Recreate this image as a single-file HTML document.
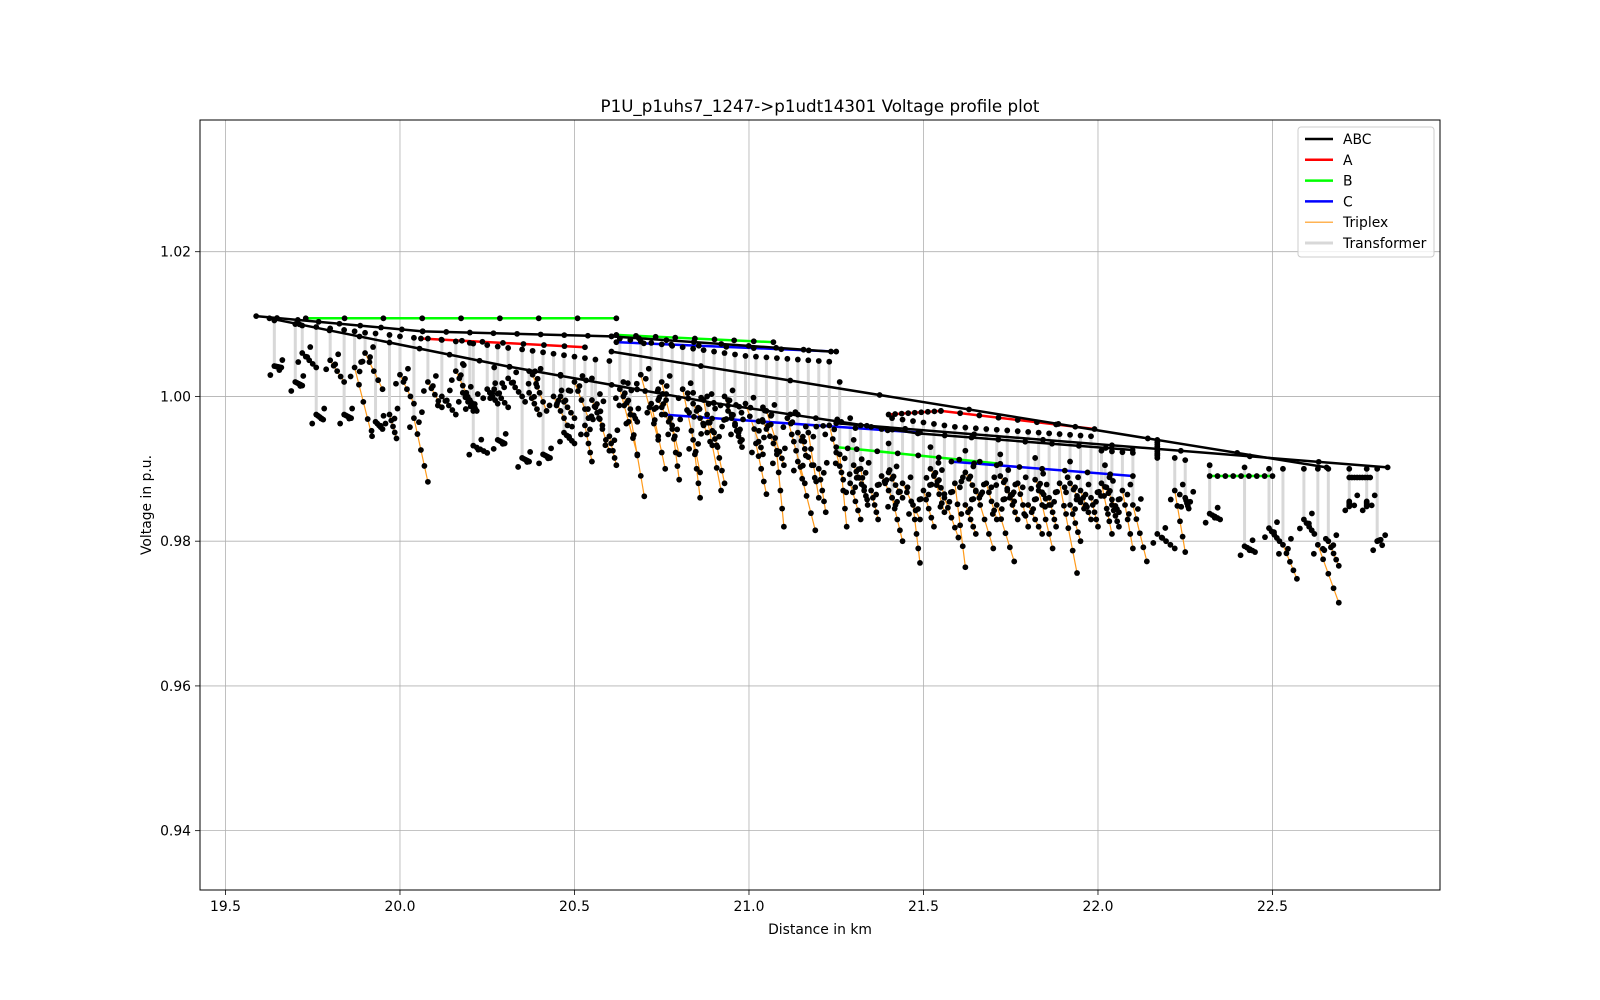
<!DOCTYPE html>
<html><head><meta charset="utf-8">
<style>
html,body{margin:0;padding:0;background:#fff;}
svg{display:block;font-family:"DejaVu Sans","Liberation Sans",sans-serif;}
</style></head>
<body>
<svg id="chart" width="1600" height="1000" xmlns="http://www.w3.org/2000/svg">
<rect x="0" y="0" width="1600" height="1000" fill="#fff"/>
<text x="820" y="112" font-size="16.7" text-anchor="middle">P1U_p1uhs7_1247-&gt;p1udt14301 Voltage profile plot</text>
<text x="820" y="934" font-size="13.9" text-anchor="middle">Distance in km</text>
<text x="151" y="505" font-size="13.9" text-anchor="middle" transform="rotate(-90 151 505)">Voltage in p.u.</text>
<g id="grid"></g><g id="marks"></g><g id="axes"></g><g id="legend"></g>
</svg>
<script>
const xTicks=[19.5,20.0,20.5,21.0,21.5,22.0,22.5];
const yTicks=[0.94,0.96,0.98,1.00,1.02];
// transformer/triplex rows: [x, primaryV, secondaryV, endX, endV]
const services=[
[19.64,1.0105,1.0042,19.66,1.0040],[19.70,1.0100,1.0020,19.72,1.0015],[19.72,1.0098,1.0060,19.76,1.0040],
[19.76,1.0096,0.9975,19.78,0.9968],[19.80,1.0094,1.0050,19.84,1.0020],[19.84,1.0092,0.9975,19.86,0.9970],
[19.87,1.0090,1.0040,19.92,0.9945],[19.90,1.0088,1.0060,19.95,1.0010],[19.93,1.0087,0.9965,19.95,0.9955],
[19.97,1.0085,0.9975,19.99,0.9942],[20.00,1.0083,1.0030,20.04,0.9990],[20.12,1.0078,1.0000,20.16,0.9975],
[20.08,1.0080,1.0020,20.12,0.9985],[20.16,1.0076,1.0035,20.20,0.9995],[20.20,1.0074,0.9995,20.22,0.9980],
[20.21,1.0073,0.9932,20.25,0.9922],[20.25,1.0071,1.0010,20.28,0.9990],[20.28,1.0069,0.9940,20.30,0.9935],
[20.31,1.0067,1.0025,20.35,1.0000],[20.35,1.0065,0.9915,20.37,0.9910],[20.38,1.0063,1.0030,20.42,0.9980],
[20.41,1.0061,0.9920,20.43,0.9915],[20.44,1.0059,1.0000,20.48,0.9960],[20.47,1.0057,0.9950,20.50,0.9935],
[20.50,1.0055,1.0020,20.54,0.9970],[20.53,1.0053,0.9960,20.55,0.9910],[20.56,1.0051,0.9985,20.60,0.9925],
[20.60,1.0049,0.9945,20.62,0.9905],[20.63,1.0080,1.0010,20.68,0.9920],[20.66,1.0078,0.9975,20.70,0.9862],
[20.69,1.0076,1.0030,20.74,0.9940],[20.72,1.0074,0.9990,20.76,0.9900],[20.75,1.0072,1.0020,20.80,0.9920],
[20.78,1.0070,0.9960,20.80,0.9885],[20.81,1.0068,1.0010,20.86,0.9895],[20.84,1.0066,0.9940,20.86,0.9860],
[20.87,1.0064,0.9995,20.92,0.9870],[20.90,1.0062,0.9950,20.93,0.9880],[20.93,1.0060,1.0000,20.97,0.9950],
[20.96,1.0058,0.9960,20.98,0.9930],[20.99,1.0056,0.9990,21.04,0.9920],[21.02,1.0055,0.9935,21.05,0.9865],
[21.05,1.0054,0.9980,21.10,0.9905],[21.08,1.0053,0.9920,21.10,0.9820],[21.11,1.0052,0.9970,21.16,0.9880],
[21.14,1.0051,0.9910,21.19,0.9815],[21.17,1.0050,0.9950,21.20,0.9860],[21.20,1.0049,0.9900,21.22,0.9840],
[21.23,1.0048,0.9960,21.27,0.9885],[21.26,1.0020,0.9920,21.28,0.9820],[21.29,0.9970,0.9880,21.32,0.9830],
[21.32,0.9960,0.9900,21.34,0.9850],[21.35,0.9958,0.9870,21.37,0.9830],[21.38,0.9955,0.9890,21.42,0.9850],
[21.41,0.9970,0.9860,21.44,0.9800],[21.44,0.9968,0.9880,21.49,0.9830],[21.47,0.9966,0.9850,21.49,0.9770],
[21.50,0.9964,0.9870,21.53,0.9820],[21.53,0.9962,0.9890,21.56,0.9840],[21.56,0.9960,0.9860,21.60,0.9805],
[21.59,0.9958,0.9880,21.62,0.9764],[21.62,0.9957,0.9850,21.65,0.9810],[21.65,0.9956,0.9870,21.70,0.9790],
[21.68,0.9955,0.9880,21.71,0.9830],[21.71,0.9954,0.9850,21.76,0.9772],[21.74,0.9953,0.9870,21.77,0.9830],
[21.77,0.9952,0.9880,21.80,0.9820],[21.80,0.9951,0.9850,21.84,0.9810],[21.83,0.9950,0.9870,21.87,0.9790],
[21.86,0.9949,0.9860,21.88,0.9820],[21.89,0.9948,0.9880,21.94,0.9756],[21.92,0.9947,0.9850,21.95,0.9800],
[21.95,0.9946,0.9870,21.98,0.9830],[21.98,0.9945,0.9860,22.00,0.9820],[22.01,0.9925,0.9880,22.04,0.9810],
[22.04,0.9924,0.9850,22.06,0.9820],[22.07,0.9923,0.9870,22.10,0.9790],[22.10,0.9922,0.9850,22.14,0.9772],
[22.17,0.9920,0.9810,22.22,0.9790],[22.22,0.9915,0.9870,22.25,0.9785],[22.25,0.9912,0.9860,22.26,0.9845],
[22.32,0.9905,0.9838,22.35,0.9830],[22.42,0.9902,0.9793,22.45,0.9785],[22.49,0.9900,0.9818,22.52,0.9800],
[22.53,0.9900,0.9795,22.57,0.9748],[22.59,0.9900,0.9830,22.62,0.9810],[22.63,0.9900,0.9795,22.69,0.9715],
[22.66,0.9900,0.9800,22.69,0.9766],[22.72,0.9900,0.9855,22.72,0.9848],[22.77,0.9900,0.9855,22.77,0.9848],
[22.80,0.9900,0.9800,22.81,0.9802],[20.04,1.0081,0.9970,20.08,0.9882],
[20.27,1.0040,1.0010,20.31,0.9985],[20.37,1.0035,1.0005,20.40,0.9975],[20.46,1.0030,1.0000,20.50,0.9970],
[20.55,1.0025,0.9995,20.58,0.9960],[20.64,1.0020,1.0000,20.68,0.9965],[20.74,1.0010,0.9995,20.78,0.9955],
[20.84,1.0005,0.9990,20.88,0.9950],[20.94,0.9995,0.9980,20.98,0.9940],[21.04,0.9985,0.9965,21.08,0.9925],
[21.14,0.9975,0.9950,21.18,0.9905],[21.30,0.9940,0.9905,21.33,0.9870],[21.40,0.9935,0.9895,21.44,0.9860],
[21.52,0.9930,0.9900,21.56,0.9865],[21.62,0.9925,0.9895,21.66,0.9860],[21.72,0.9920,0.9890,21.76,0.9855],
[21.82,0.9915,0.9885,21.86,0.9850],[21.92,0.9910,0.9880,21.96,0.9845],[22.02,0.9905,0.9875,22.06,0.9840],
[20.18,1.0045,1.0005,20.21,0.9980],[20.88,1.0000,0.9975,20.91,0.9930]
];
// backbone polylines per phase: flat [x,v,x,v,...]
const abcLines=[
[19.588,1.0111,20.065,1.0090,20.606,1.0083,21.235,1.0062],
[19.626,1.0108,20.314,1.0041,20.899,0.9991,21.484,0.9949,22.099,0.9926],
[20.606,1.0062,22.655,0.9902],
[21.25,0.9963,22.83,0.9902]
];
const aLines=[[20.06,1.0080,20.53,1.0068],[21.40,0.9975,21.55,0.9980,21.99,0.9955],[22.17,0.9940,22.17,0.9915]];
const bLines=[[19.73,1.0108,20.62,1.0108],[20.62,1.0085,21.07,1.0075],[21.25,0.9930,21.72,0.9907],[22.32,0.9890,22.50,0.9890],[22.72,0.9888,22.78,0.9888]];
const cLines=[[20.62,1.0075,21.25,1.0062],[20.75,0.9975,21.49,0.9950],[21.58,0.9910,22.10,0.9890]];

const X0=200,X1=1440,Y0=120,Y1=890;
const xMin=19.427,xMax=22.98,yMin=0.9318,yMax=1.0382;
const sx=v=>X0+(v-xMin)/(xMax-xMin)*(X1-X0);
const sy=v=>Y1-(v-yMin)/(yMax-yMin)*(Y1-Y0);
const NS='http://www.w3.org/2000/svg';
function mk(tag,attrs,parent){const e=document.createElementNS(NS,tag);for(const k in attrs)e.setAttribute(k,attrs[k]);parent.appendChild(e);return e;}
const grid=document.getElementById('grid'),marks=document.getElementById('marks'),axes=document.getElementById('axes'),leg=document.getElementById('legend');

xTicks.forEach(t=>{const x=sx(t);
 const g=mk('line',{x1:x,x2:x,y1:Y0,y2:Y1,stroke:'#b0b0b0','stroke-width':0.8},grid);
 
 
 mk('line',{x1:x,x2:x,y1:Y1,y2:Y1+5,stroke:'#000','stroke-width':0.8},axes);
 const tx=mk('text',{x:x,y:Y1+21,'font-size':13.9,'text-anchor':'middle'},axes);tx.textContent=t.toFixed(1);
 
 
});
yTicks.forEach(t=>{const y=sy(t);
 const g=mk('line',{x1:X0,x2:X1,y1:y,y2:y,stroke:'#b0b0b0','stroke-width':0.8},grid);
 
 
 mk('line',{x1:X0-5,x2:X0,y1:y,y2:y,stroke:'#000','stroke-width':0.8},axes);
 const tx=mk('text',{x:X0-9,y:y+5,'font-size':13.9,'text-anchor':'end'},axes);tx.textContent=t.toFixed(2);
 
 
});
const frame=mk('rect',{x:X0,y:Y0,width:X1-X0,height:Y1-Y0,fill:'none',stroke:'#000','stroke-width':1},axes);



services.forEach(s=>{
 const l=mk('line',{x1:sx(s[0]),x2:sx(s[0]),y1:sy(s[1]),y2:sy(s[2]),stroke:'#d8d8d8','stroke-width':3},marks);
 
 
});
services.forEach(s=>{
 const l=mk('line',{x1:sx(s[0]),x2:sx(s[3]),y1:sy(s[2]),y2:sy(s[4]),stroke:'#ff9a1a','stroke-width':1.2},marks);
 
 
});
function poly(arr,color,w,name){arr.forEach(a=>{
 let pts=[];for(let i=0;i<a.length;i+=2)pts.push(sx(a[i])+','+sy(a[i+1]));
 const p=mk('polyline',{points:pts.join(' '),fill:'none',stroke:color,'stroke-width':w},marks);
 
 
});}
poly(bLines,'#00ff00',2.5,'phase-b-line');
poly(aLines,'#ff0000',2.5,'phase-a-line');
poly(cLines,'#0000ff',2.5,'phase-c-line');
poly(abcLines,'#000',2.5,'abc-line');
function dot(x,y){const c=mk('circle',{cx:x,cy:y,r:2.9,fill:'#000'},marks);
 
 }
services.forEach(s=>{
 dot(sx(s[0]),sy(s[1]));dot(sx(s[0]),sy(s[2]));dot(sx(s[3]),sy(s[4]));
 [0.25,0.5,0.75].forEach(f=>dot(sx(s[0]+(s[3]-s[0])*f),sy(s[2]+(s[4]-s[2])*f)));
 dot(sx(s[0])+5,sy(s[2])+4);dot(sx(s[0])-4,sy(s[2])+9);dot(sx(s[0])+8,sy(s[2])-6);
});
[abcLines,aLines,bLines,cLines].forEach(set=>set.forEach(a=>{
 for(let i=0;i+2<a.length;i+=2){const n=8;for(let k=0;k<=n;k++){const f=k/n;dot(sx(a[i]+(a[i+2]-a[i])*f),sy(a[i+1]+(a[i+3]-a[i+1])*f));}}
}));

const lb=mk('rect',{x:1298,y:127,width:136,height:130,rx:3,fill:'#fff','fill-opacity':0.8,stroke:'#ccc','stroke-width':1},leg);


const legItems=[['ABC','#000',2.5],['A','#ff0000',2.5],['B','#00ff00',2.5],['C','#0000ff',2.5],['Triplex','#ff9a1a',1.2],['Transformer','#d8d8d8',3]];
legItems.forEach((it,i)=>{const y=139+i*20.8;
 const g=mk('g',{},leg);
 
 
 mk('line',{x1:1305,x2:1333,y1:y,y2:y,stroke:it[1],'stroke-width':it[2]},g);
 const t=mk('text',{x:1343,y:y+5,'font-size':13.9},g);t.textContent=it[0];
});
</script>
</body></html>
